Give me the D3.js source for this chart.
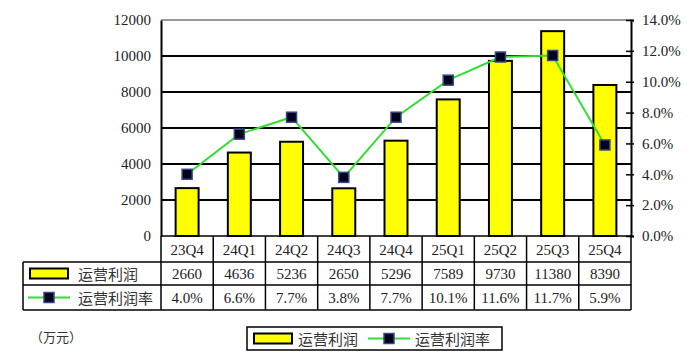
<!DOCTYPE html>
<html><head><meta charset="utf-8">
<script src="https://cdn.jsdelivr.net/npm/d3@7"></script>
<style>body{margin:0;background:#fff}svg{display:block}</style>
</head><body><svg id="c" width="687" height="359"></svg>
<script>
const categories = ["23Q4","24Q1","24Q2","24Q3","24Q4","25Q1","25Q2","25Q3","25Q4"];
const profit = [2660,4636,5236,2650,5296,7589,9730,11380,8390];
const margin = [4.0,6.6,7.7,3.8,7.7,10.1,11.6,11.7,5.9];
const leftTicks = [0,2000,4000,6000,8000,10000,12000];
const rightTicks = [0,2,4,6,8,10,12,14];
const seriesNames = ["运营利润","运营利润率"];
const unitLabel = "（万元）";

const svg = d3.select("#c");
const L = 161, R = 631, T = 20, B = 236;
const tableLeft = 23, rowH = [26, 23, 25];
const numFont = "'Liberation Serif','DejaVu Serif',serif";
const cjkFont = "'Noto Sans CJK SC','Noto Sans',sans-serif";
const green = "#33dd33";

const x = d3.scaleBand().domain(categories).range([L, R]).paddingInner(0.56).paddingOuter(0.28);
const xCell = d3.scaleBand().domain(categories).range([L, R]);
const y = d3.scaleLinear().domain([0, 12000]).range([B, T]);
const y2 = d3.scaleLinear().domain([0, 14]).range([B, T]);

// gridlines
svg.append("g").selectAll("line").data(leftTicks.filter(d => d > 0 && d < 12000)).join("line")
  .attr("x1", L).attr("x2", R).attr("y1", d => y(d)).attr("y2", d => y(d))
  .attr("stroke", "#000").attr("stroke-width", 2);
svg.append("line").attr("x1", L).attr("x2", R).attr("y1", T).attr("y2", T)
  .attr("stroke", "#999").attr("stroke-width", 2);

// bars
svg.append("g").selectAll("rect").data(profit).join("rect")
  .attr("x", (d, i) => x(categories[i])).attr("width", x.bandwidth())
  .attr("y", d => y(d)).attr("height", d => B - y(d))
  .attr("fill", "#ffff00").attr("stroke", "#000").attr("stroke-width", 2);

// left axis
const la = svg.append("g").attr("transform", `translate(${L},0)`)
  .call(d3.axisLeft(y).tickValues(leftTicks).tickSize(0).tickPadding(10).tickFormat(d3.format("d")));
la.select(".domain").attr("stroke", "#000").attr("stroke-width", 2);
la.selectAll("text").attr("font-family", numFont).attr("font-size", 15).attr("fill", "#222");

// right axis
const ra = svg.append("g").attr("transform", `translate(${R},0)`)
  .call(d3.axisRight(y2).tickValues(rightTicks).tickSize(3).tickPadding(8).tickFormat(d => d3.format(".1f")(d) + "%"));
ra.select(".domain").attr("stroke", "#000").attr("stroke-width", 2);
ra.selectAll(".tick line").attr("x1", -5).attr("x2", 3).attr("stroke", "#000").attr("stroke-width", 1.5);
ra.selectAll("text").attr("font-family", numFont).attr("font-size", 15).attr("fill", "#222");

// line
const line = d3.line().x((d, i) => x(categories[i]) + x.bandwidth() / 2).y(d => y2(d));
svg.append("path").datum(margin).attr("d", line).attr("fill", "none").attr("stroke", green).attr("stroke-width", 2);
svg.append("g").selectAll("rect").data(margin).join("rect")
  .attr("x", (d, i) => x(categories[i]) + x.bandwidth() / 2 - 5).attr("y", d => y2(d) - 5)
  .attr("width", 10).attr("height", 10).attr("fill", "#000018").attr("stroke", "#34478a").attr("stroke-width", 1.5);

// table
const r0 = B, r1 = r0 + rowH[0], r2 = r1 + rowH[1], r3 = r2 + rowH[2];
const tg = svg.append("g");
const st = s => s.attr("stroke", "#000").attr("stroke-width", 1.5);
// horizontal
st(tg.append("line").attr("x1", L).attr("x2", R).attr("y1", r0).attr("y2", r0));
st(tg.append("line").attr("x1", tableLeft).attr("x2", R).attr("y1", r1).attr("y2", r1));
st(tg.append("line").attr("x1", tableLeft).attr("x2", R).attr("y1", r2).attr("y2", r2));
st(tg.append("line").attr("x1", tableLeft).attr("x2", R).attr("y1", r3).attr("y2", r3));
// vertical
st(tg.append("line").attr("x1", tableLeft).attr("x2", tableLeft).attr("y1", r1).attr("y2", r3));
tg.selectAll("line.v").data(categories.concat(["_end"])).join("line").attr("class", "v")
  .attr("x1", d => d === "_end" ? R : xCell(d)).attr("x2", d => d === "_end" ? R : xCell(d))
  .attr("y1", r0).attr("y2", r3).attr("stroke", "#000").attr("stroke-width", 1.5);

const cellText = (arr, yc, fmt) => tg.append("g").selectAll("text").data(arr).join("text")
  .attr("x", (d, i) => xCell(categories[i]) + xCell.bandwidth() / 2).attr("y", yc)
  .attr("text-anchor", "middle").attr("dominant-baseline", "central")
  .attr("font-family", numFont).attr("font-size", 15).attr("fill", "#222").text(fmt);
cellText(categories, (r0 + r1) / 2 + 1, d => d);
cellText(profit, (r1 + r2) / 2, d => d);
cellText(margin, (r2 + r3) / 2, d => d3.format(".1f")(d) + "%");

// legend symbols
function barSym(g, x0, yc) {
  g.append("rect").attr("x", x0).attr("y", yc - 5).attr("width", 38).attr("height", 10)
    .attr("fill", "#ffff00").attr("stroke", "#000").attr("stroke-width", 2);
}
function lineSym(g, x0, yc) {
  g.append("line").attr("x1", x0).attr("x2", x0 + 42).attr("y1", yc).attr("y2", yc).attr("stroke", green).attr("stroke-width", 2);
  g.append("rect").attr("x", x0 + 16).attr("y", yc - 5).attr("width", 10).attr("height", 10)
    .attr("fill", "#000018").attr("stroke", "#34478a").attr("stroke-width", 1.5);
}
function lab(g, x0, yc, t) {
  g.append("text").attr("x", x0).attr("y", yc).attr("dominant-baseline", "central")
    .attr("font-family", cjkFont).attr("font-size", 15).attr("fill", "#333").text(t);
}
barSym(tg, 30, (r1 + r2) / 2);
lab(tg, 78, (r1 + r2) / 2, seriesNames[0]);
lineSym(tg, 28, (r2 + r3) / 2);
lab(tg, 78, (r2 + r3) / 2, seriesNames[1]);

// unit label
svg.append("text").attr("x", 30).attr("y", 336).attr("dominant-baseline", "central")
  .attr("font-family", cjkFont).attr("font-size", 13).attr("fill", "#333").text(unitLabel);

// bottom legend
const lg = svg.append("g");
lg.append("rect").attr("x", 247).attr("y", 327).attr("width", 255).attr("height", 23)
  .attr("fill", "#fff").attr("stroke", "#000").attr("stroke-width", 1.5);
barSym(lg, 254, 338.5);
lab(lg, 298, 338.5, seriesNames[0]);
lineSym(lg, 368, 338.5);
lab(lg, 415, 338.5, seriesNames[1]);
</script></body></html>
